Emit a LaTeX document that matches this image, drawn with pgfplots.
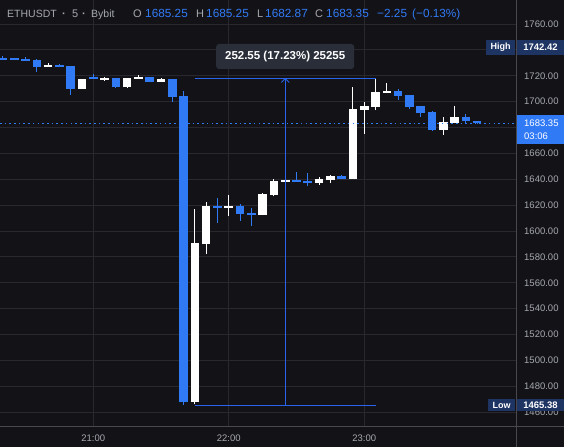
\documentclass[border=0pt]{standalone}
\usepackage{fontspec}
\setmainfont{Liberation Sans}
\usepackage{pgfplots}
\pgfplotsset{compat=1.18}
\usepackage{pgfplotstable}
\definecolor{bg}{RGB}{19,19,23}
\definecolor{gridc}{RGB}{40,40,46}
\definecolor{cblue}{RGB}{49,122,246}
\definecolor{mblue}{RGB}{41,98,235}
\definecolor{txt}{RGB}{165,168,176}
\definecolor{sep}{RGB}{72,72,78}
\definecolor{navy}{RGB}{30,52,98}
\definecolor{mbox}{RGB}{42,46,57}

% x = (minutes from 21:00)/5 ; o h l c
\pgfplotstableread{
x   o       h       l       c
-4  1727.0  1729.8  1727.0  1728.0
-1  1709.7  1717.5  1709.7  1717.5
1   1716.7  1719.2  1716.2  1718.2
3   1711.3  1718.2  1710.5  1718.2
4   1717.5  1720.8  1717.5  1719.2
6   1715.1  1718.5  1715.1  1717.5
9   1467.6  1616.9  1466.0  1590.6
10  1589.9  1622.3  1582.1  1619.2
12  1617.7  1627.7  1611.5  1619.2
15  1612.3  1629.3  1612.3  1628.5
16  1627.7  1640.1  1627.0  1638.6
17  1637.8  1640.9  1635.5  1639.3
20  1637.0  1641.7  1635.5  1640.1
21  1639.3  1643.2  1637.0  1642.4
23  1640.1  1711.3  1640.1  1694.3
24  1693.5  1699.7  1674.9  1696.6
25  1695.8  1717.93 1693.5  1707.4
26  1706.6  1714.4  1706.6  1708.2
31  1678.0  1688.1  1674.2  1684.2
32  1683.4  1696.6  1683.4  1688.1
}\up

\pgfplotstableread{
x   o       h       l       c
-8  1733.7  1735.3  1732.2  1732.2
-7  1733.1  1733.7  1732.4  1732.4
-6  1732.9  1734.5  1731.4  1731.4
-5  1732.2  1732.6  1722.9  1726.7
-3  1727.8  1729.1  1727.0  1727.0
-2  1727.5  1727.5  1705.1  1709.7
0   1718.0  1721.3  1717.2  1717.2
2   1718.2  1718.2  1710.5  1711.3
5   1719.0  1719.0  1715.1  1715.1
7   1717.5  1717.5  1699.7  1703.8
8   1704.3  1708.2  1465.38 1467.6
11  1619.2  1625.4  1606.1  1617.7
13  1619.2  1620.8  1607.6  1613.0
14  1613.8  1617.7  1603.8  1612.3
18  1639.3  1645.5  1637.8  1637.8
19  1638.6  1644.8  1634.7  1637.0
22  1642.4  1643.2  1640.1  1640.1
27  1708.2  1709.7  1701.2  1704.3
28  1705.1  1705.1  1694.3  1695.8
29  1696.6  1696.6  1688.1  1691.2
30  1691.9  1692.7  1677.2  1678.0
33  1688.1  1690.4  1682.7  1685.0
34  1685.25 1685.25 1682.87 1683.35
}\down

\begin{document}
\begin{tikzpicture}[x=1pt,y=1pt]
\useasboundingbox (0,0) rectangle (564,447);
\fill[bg] (0,0) rectangle (564,447);
\begin{axis}[
  at={(0pt,21pt)}, anchor=south west, scale only axis,
  width=516pt, height=426pt,
  xmin=-8.26, xmax=37.44, ymin=1449.3, ymax=1778.55,
  axis line style={draw=none}, tick style={draw=none}, major tick length=0pt,
  grid=major, grid style={gridc, line width=0.8pt},
  xtick={0,12,24}, xticklabels={21:00,22:00,23:00},
  ytick={1460,1480,1500,1520,1540,1560,1580,1600,1620,1640,1660,1680,1700,1720,1740,1760},
  yticklabels={1460.00,1480.00,1500.00,1520.00,1540.00,1560.00,1580.00,1600.00,1620.00,1640.00,1660.00,,1700.00,1720.00,,1760.00},
  yticklabel pos=right,
  yticklabel style={anchor=west, inner sep=0pt, xshift=8pt, font=\fontsize{9.5}{10}\selectfont, text=txt},
  xticklabel style={anchor=center, inner sep=0pt, yshift=-12pt, font=\fontsize{9.5}{10}\selectfont, text=txt},
  candle/.style={only marks, mark=*, mark size=0pt, mark options={draw=none, fill=none}, forget plot},
]
% wicks
\addplot[candle, error bars/.cd, y dir=plus, y explicit, error mark=none,
  error bar style={draw=white, line width=1pt, solid}]
  table[x=x, y=l, y error expr=\thisrow{h}-\thisrow{l}] {\up};
\addplot[candle, error bars/.cd, y dir=plus, y explicit, error mark=none,
  error bar style={draw=cblue, line width=1pt, solid}]
  table[x=x, y=l, y error expr=\thisrow{h}-\thisrow{l}] {\down};
% bodies
\addplot[candle, error bars/.cd, y dir=plus, y explicit, error mark=none,
  error bar style={draw=white, line width=8.6pt, solid}]
  table[x=x, y expr={min(\thisrow{o},\thisrow{c})}, y error expr={max(abs(\thisrow{c}-\thisrow{o}),1.6)}] {\up};
\addplot[candle, error bars/.cd, y dir=plus, y explicit, error mark=none,
  error bar style={draw=cblue, line width=8.6pt, solid}]
  table[x=x, y expr={min(\thisrow{o},\thisrow{c})}, y error expr={max(abs(\thisrow{c}-\thisrow{o}),1.6)}] {\down};
% current price line
\draw[cblue, line width=1.3pt, dash pattern=on 1.6pt off 3.1pt] (axis cs:-8.26,1683.35) -- (axis cs:37.44,1683.35);
% measurement tool
\draw[mblue, line width=1pt] (axis cs:9,1717.93) -- (axis cs:25,1717.93);
\draw[mblue, line width=1pt] (axis cs:9,1465.38) -- (axis cs:25,1465.38);
\draw[mblue, line width=0.9pt] (axis cs:17,1465.38) -- (axis cs:17,1717.93);
\draw[mblue, line width=0.9pt] (axis cs:17,1717.93) ++(-4pt,-4pt) -- ++(4pt,4pt) -- ++(4pt,-4pt);
\node[fill=mbox, rounded corners=3pt, minimum width=138pt, minimum height=25pt, inner sep=0pt,
  text=white, font=\bfseries\fontsize{11.5}{12}\selectfont] at (axis cs:17,1734.9) {252.55 (17.23\%) 25255};
\end{axis}
% separators
\draw[sep, line width=1pt] (516,0) -- (516,447);
\draw[sep, line width=1pt] (0,21) -- (564,21);
% High / Low labels
\fill[navy] (486,392) rectangle (515,407);
\node[text=white, font=\bfseries\fontsize{9}{10}\selectfont, inner sep=0pt] at (500.5,399.5) {High};
\fill[navy] (517,392) rectangle (564,407);
\node[text=white, font=\bfseries\fontsize{9.5}{10}\selectfont, inner sep=0pt] at (540.5,399.5) {1742.42};
\fill[navy] (488,36) rectangle (515,48);
\node[text=white, font=\bfseries\fontsize{9}{10}\selectfont, inner sep=0pt] at (501.5,42) {Low};
\fill[navy] (517,36) rectangle (564,48);
\node[text=white, font=\bfseries\fontsize{9.5}{10}\selectfont, inner sep=0pt] at (540.5,42) {1465.38};
% current price box
\fill[cblue] (517,303) rectangle (564,332);
\node[text=white, font=\fontsize{9.5}{10}\selectfont, inner sep=0pt, anchor=west] at (524,324) {1683.35};
\node[text=white, font=\fontsize{9.5}{10}\selectfont, inner sep=0pt, anchor=west] at (524,311) {03:06};
% header
\begin{scope}[every node/.style={inner sep=0pt, anchor=base west}]
\node[text=txt, font=\fontsize{10.5}{12}\selectfont] at (7,429) {ETHUSDT};
\node[text=txt, font=\bfseries\fontsize{11}{12}\selectfont] at (62,429) {·};
\node[text=txt, font=\fontsize{11}{12}\selectfont] at (72,429) {5};
\node[text=txt, font=\bfseries\fontsize{11}{12}\selectfont] at (82,429) {·};
\node[text=txt, font=\fontsize{10.5}{12}\selectfont] at (91,429) {Bybit};
\node[text=txt, font=\fontsize{11}{12}\selectfont] at (133,429) {O};
\node[text=cblue, font=\fontsize{11.8}{12}\selectfont] at (145,429) {1685.25};
\node[text=txt, font=\fontsize{11}{12}\selectfont] at (196,429) {H};
\node[text=cblue, font=\fontsize{11.8}{12}\selectfont] at (206,429) {1685.25};
\node[text=txt, font=\fontsize{11}{12}\selectfont] at (257,429) {L};
\node[text=cblue, font=\fontsize{11.8}{12}\selectfont] at (265,429) {1682.87};
\node[text=txt, font=\fontsize{11}{12}\selectfont] at (315,429) {C};
\node[text=cblue, font=\fontsize{11.8}{12}\selectfont] at (326,429) {1683.35};
\node[text=cblue, font=\fontsize{11.8}{12}\selectfont] at (377,429) {−2.25};
\node[text=cblue, font=\fontsize{11.8}{12}\selectfont] at (412,429) {(−0.13\%)};
\end{scope}
\end{tikzpicture}
\end{document}
